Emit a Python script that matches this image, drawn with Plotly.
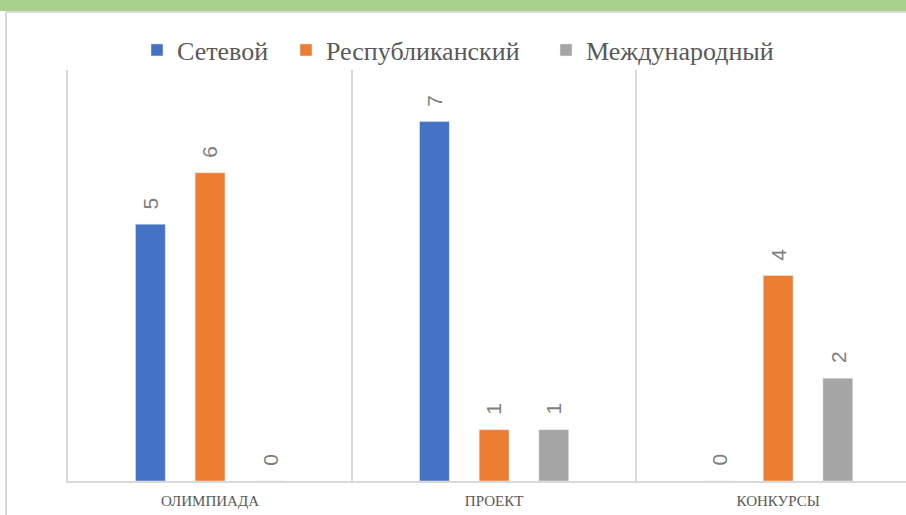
import plotly.graph_objects as go

categories = ["ОЛИМПИАДА", "ПРОЕКТ", "КОНКУРСЫ"]
series_names = ["Сетевой", "Республиканский", "Международный"]
setevoy = [5, 7, 0]
respublikansky = [6, 1, 4]
mezhdunarodny = [0, 1, 2]
colors = ["#4472C4", "#ED7D31", "#A5A5A5"]

W, H = 906, 515
L, R, T, B = 68, 0, 70, 34
pw, ph = W - L - R, H - T - B
SERIF = "Liberation Serif, Times New Roman, serif"
XR = [-0.5, 2.45]
BARGAP = 0.37
unit_px = pw / (XR[1] - XR[0])
slot = (1 - BARGAP) / 3

# legend left edges (pixels), one per series
legend_left = [137, 286, 546]


def px(x):
    return (x - L) / pw


def py(y):
    return (H - B - y) / ph


fig = go.Figure()
series = [setevoy, respublikansky, mezhdunarodny]
legend_ids = ["legend", "legend2", "legend3"]
for i, (name, vals, col) in enumerate(zip(series_names, series, colors)):
    fig.add_trace(go.Bar(
        name=name, x=categories, y=vals, marker_color=col,
        legend=legend_ids[i], cliponaxis=False,
    ))
    for cat, v in zip(categories, vals):
        fig.add_annotation(
            x=cat, y=v, xref="x", yref="y", text=str(v), showarrow=False,
            textangle=-90, xanchor="center", yanchor="bottom",
            xshift=(i - 1) * slot * unit_px, yshift=13,
            font=dict(family="Liberation Sans, Arial, sans-serif", size=21, color="#7F7F7F"),
        )

legend_common = dict(orientation="h", yanchor="middle", y=py(50), xanchor="left",
                     font=dict(family=SERIF, size=26, color="#595959"),
                     itemwidth=30, bgcolor="rgba(0,0,0,0)")

fig.update_layout(
    width=W, height=H,
    font=dict(family=SERIF, color="#595959"),
    margin=dict(l=L, r=R, t=T, b=B),
    paper_bgcolor="white", plot_bgcolor="white",
    barmode="group", bargap=BARGAP, bargroupgap=0.5,
    showlegend=True,
    legend=dict(x=px(legend_left[0]), **legend_common),
    legend2=dict(x=px(legend_left[1]), **legend_common),
    legend3=dict(x=px(legend_left[2]), **legend_common),
    xaxis=dict(range=XR, tickson="boundaries", showgrid=True, gridcolor="#D9D9D9",
               gridwidth=1.5, showline=True, linecolor="#D9D9D9", linewidth=2, ticks="",
               ticklabelstandoff=5,
               tickfont=dict(family=SERIF, size=15, color="#595959"), fixedrange=True),
    yaxis=dict(range=[0, 8], showgrid=False, zeroline=False, showticklabels=False,
               showline=True, linecolor="#D9D9D9", linewidth=2, fixedrange=True),
    shapes=[
        dict(type="rect", xref="paper", yref="paper", x0=px(0), x1=px(W), y0=py(11), y1=py(0),
             fillcolor="#A9D18E", line_width=0, layer="above"),
        dict(type="line", xref="paper", yref="paper", x0=px(6), x1=px(W), y0=py(12), y1=py(12),
             line=dict(color="#D9D9D9", width=2)),
        dict(type="line", xref="paper", yref="paper", x0=px(6), x1=px(6), y0=py(12), y1=py(H),
             line=dict(color="#D9D9D9", width=2)),
    ],
)

fig.write_html("out.html", config={"displayModeBar": False},
               post_script="document.body.style.margin='0';")
